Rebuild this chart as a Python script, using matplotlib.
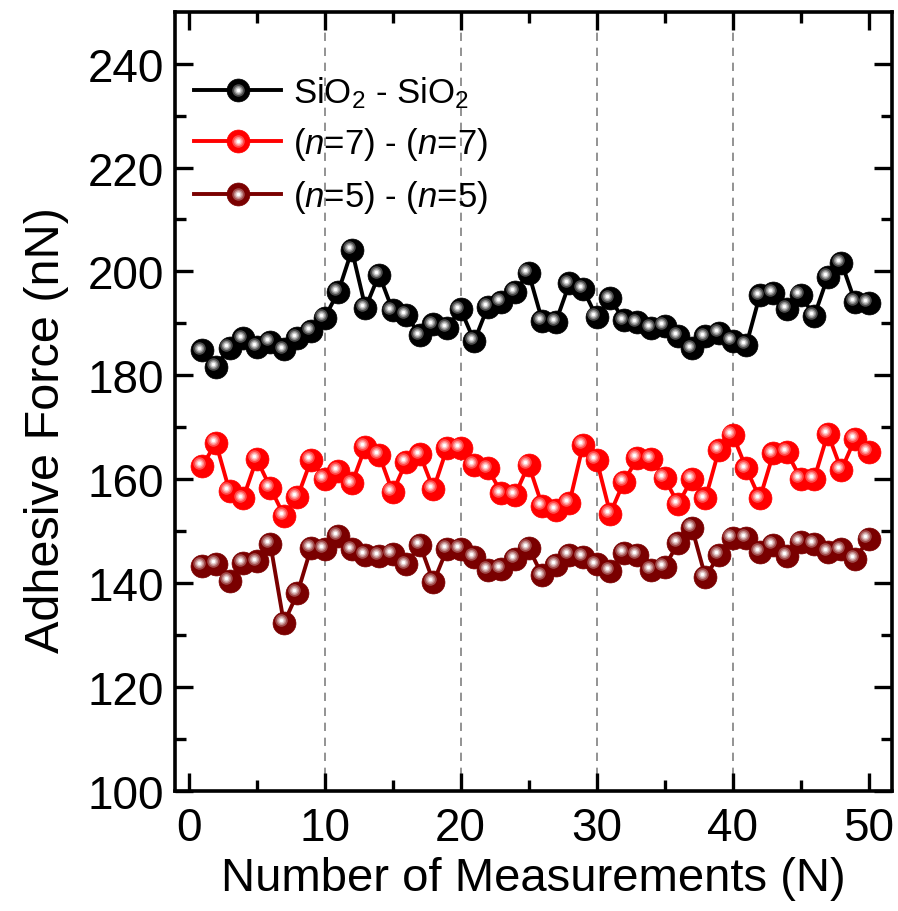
import numpy as np
import matplotlib
matplotlib.use('Agg')
from matplotlib import pyplot as plt
from matplotlib.transforms import offset_copy
from matplotlib.lines import Line2D
from matplotlib.legend_handler import HandlerTuple
from matplotlib.colors import to_rgb

plt.rcParams['font.family'] = ['Liberation Sans', 'DejaVu Sans']
plt.rcParams['mathtext.fontset'] = 'custom'
plt.rcParams['mathtext.rm'] = 'Liberation Sans'
plt.rcParams['mathtext.it'] = 'Liberation Sans:italic'

# measurement number
n_meas = np.arange(1, 51)

# adhesive force (nN)
sio2 = [184.8, 181.7, 185.3, 187.1, 185.5, 186.5, 185.0, 187.2, 188.6, 191.1,
        196.1, 204.1, 193.0, 199.4, 192.5, 191.6, 187.7, 189.8, 189.2, 192.7,
        186.6, 193.2, 194.2, 196.1, 199.7, 190.5, 190.3, 197.7, 196.6, 191.2,
        194.8, 190.6, 190.2, 189.2, 189.5, 187.6, 185.2, 187.5, 188.1, 186.6,
        185.8, 195.4, 195.8, 192.8, 195.5, 191.4, 199.0, 201.7, 194.2, 194.0]
n7 = [162.6, 167.0, 157.7, 156.3, 163.9, 158.4, 153.0, 156.6, 163.7, 160.1,
      161.6, 159.2, 166.3, 164.7, 157.5, 163.4, 164.8, 158.1, 166.0, 166.1,
      162.8, 162.1, 157.3, 157.0, 162.8, 154.9, 154.1, 155.5, 166.6, 163.7,
      153.4, 159.5, 164.1, 163.9, 160.2, 155.2, 160.1, 156.3, 165.7, 168.6,
      162.1, 156.3, 165.0, 165.2, 160.1, 160.1, 168.8, 161.8, 167.8, 165.2]
n5 = [143.4, 143.7, 140.5, 143.9, 144.2, 147.6, 132.3, 138.1, 146.8, 146.6,
      149.1, 146.5, 145.5, 145.2, 145.7, 143.6, 147.4, 140.2, 146.6, 146.6,
      145.0, 142.5, 142.8, 144.7, 146.8, 141.5, 143.5, 145.4, 145.0, 143.6,
      142.3, 145.9, 145.5, 142.6, 143.1, 147.8, 150.7, 141.2, 145.4, 148.7,
      148.7, 146.0, 147.3, 145.2, 147.9, 147.6, 146.0, 146.5, 144.6, 148.5]

series = [(sio2, '#000000', 'SiO$_2$ - SiO$_2$'),
          (n7, '#ff0000', '($\\it{n}$=7) - ($\\it{n}$=7)'),
          (n5, '#7a0000', '($\\it{n}$=5) - ($\\it{n}$=5)')]

fig = plt.figure(figsize=(8.98, 9.12), dpi=100)
ax = fig.add_axes([0.195, 0.1316, 0.798, 0.8545])

# highlight layers to get a shaded "ball" marker
hl_sizes = [9, 6.5, 4.5, 2.5]
hl_mix = [0.3, 0.55, 0.8, 1.0]
hl_trans = offset_copy(ax.transData, fig=fig, x=-2.3, y=2.0, units='points')

handles = []
for data, col, lab in series:
    base, = ax.plot(n_meas, data, '-o', color=col, lw=2.8, ms=16.5,
                    mec=col, mew=0.5, label=lab)
    parts = [base]
    c = np.array(to_rgb(col))
    for s, m in zip(hl_sizes, hl_mix):
        hc = c + (1 - c) * m
        ax.plot(n_meas, data, 'o', ms=s, color=hc, mec='none', transform=hl_trans)
        parts.append(Line2D([], [], ls='none', marker='o', ms=s, color=hc, mec='none'))
    handles.append(tuple(parts))

ax.set_xlim(-1.0, 51.7)
ax.set_ylim(100, 250)
ax.set_xticks([0, 10, 20, 30, 40, 50])
ax.set_xticks(np.arange(5, 50, 10), minor=True)
ax.set_yticks(np.arange(100, 241, 20))
ax.set_yticks(np.arange(110, 250, 20), minor=True)

# dashed guide lines
for xv in [10, 20, 30, 40]:
    ax.axvline(xv, color='#808080', ls=(0, (5, 4)), lw=1.2, zorder=0)

for sp in ax.spines.values():
    sp.set_linewidth(2.6)
ax.tick_params(which='both', direction='in', top=True, right=True,
               width=2.4, labelsize=33)
ax.tick_params(which='major', length=13)
ax.tick_params(which='minor', length=8)
ax.tick_params(axis='x', pad=11)
ax.tick_params(axis='y', pad=8)

ax.set_xlabel('Number of Measurements (N)', fontsize=34, labelpad=4)
ax.set_ylabel('Adhesive Force (nN)', fontsize=35)
ax.yaxis.set_label_coords(-0.148, 0.465)

ax.legend(handles, [s[2] for s in series], loc='upper left',
          bbox_to_anchor=(0.027, 0.92), frameon=False, fontsize=25,
          handlelength=2.5, handletextpad=0.33, labelspacing=0.45,
          borderpad=0, borderaxespad=0,
          handler_map={tuple: HandlerTuple(ndivide=1, pad=0)})

plt.savefig('out.png', dpi=100)
